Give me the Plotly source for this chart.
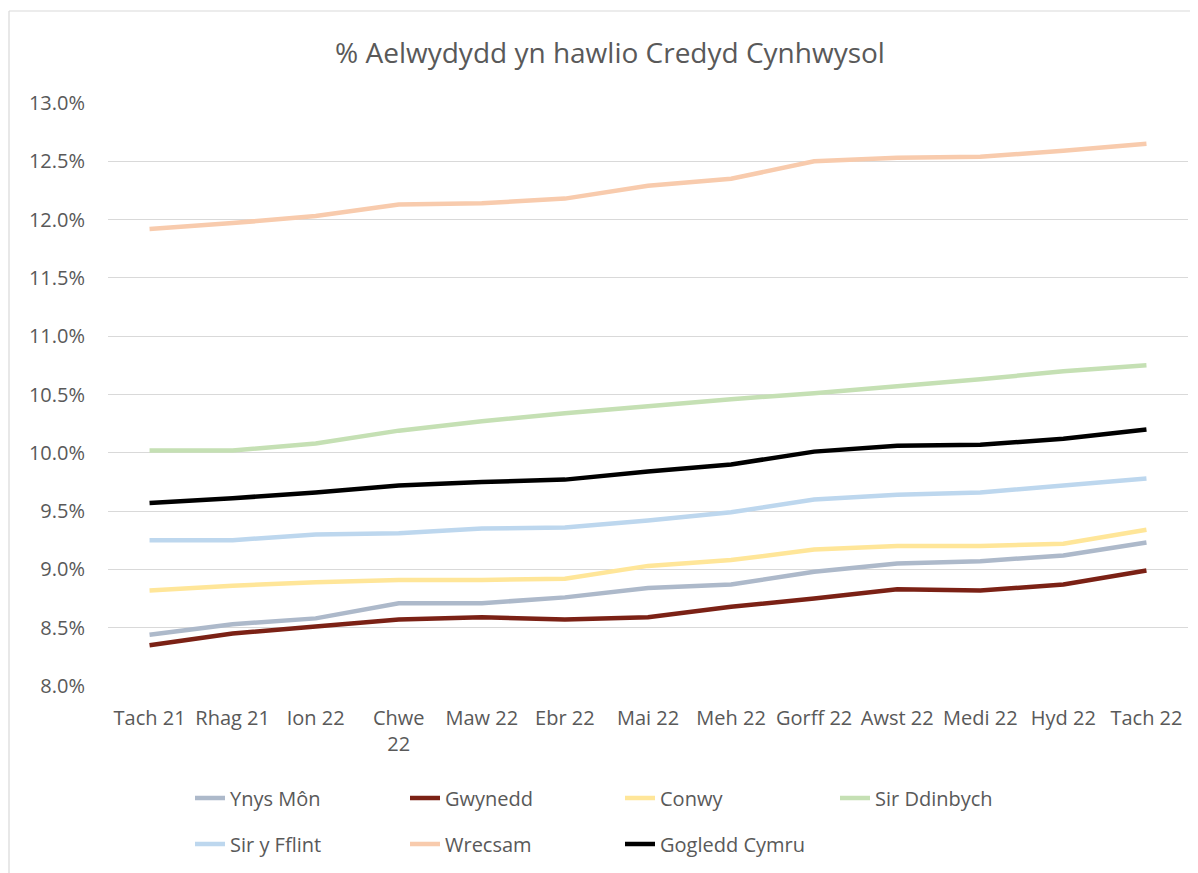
import plotly.graph_objects as go

months = ["Tach 21", "Rhag 21", "Ion 22", "Chwe 22", "Maw 22", "Ebr 22", "Mai 22",
          "Meh 22", "Gorff 22", "Awst 22", "Medi 22", "Hyd 22", "Tach 22"]
tick_labels = ["Tach 21", "Rhag 21", "Ion 22", "Chwe<br>22", "Maw 22", "Ebr 22", "Mai 22",
               "Meh 22", "Gorff 22", "Awst 22", "Medi 22", "Hyd 22", "Tach 22"]

ynys_mon = [8.44, 8.53, 8.58, 8.71, 8.71, 8.76, 8.84, 8.87, 8.98, 9.05, 9.07, 9.12, 9.23]
gwynedd = [8.35, 8.45, 8.51, 8.57, 8.59, 8.57, 8.59, 8.68, 8.75, 8.83, 8.82, 8.87, 8.99]
conwy = [8.82, 8.86, 8.89, 8.91, 8.91, 8.92, 9.03, 9.08, 9.17, 9.20, 9.20, 9.22, 9.34]
sir_ddinbych = [10.02, 10.02, 10.08, 10.19, 10.27, 10.34, 10.40, 10.46, 10.51, 10.57, 10.63, 10.70, 10.75]
sir_y_fflint = [9.25, 9.25, 9.30, 9.31, 9.35, 9.36, 9.42, 9.49, 9.60, 9.64, 9.66, 9.72, 9.78]
wrecsam = [11.92, 11.97, 12.03, 12.13, 12.14, 12.18, 12.29, 12.35, 12.50, 12.53, 12.54, 12.59, 12.65]
gogledd_cymru = [9.57, 9.61, 9.66, 9.72, 9.75, 9.77, 9.84, 9.90, 10.01, 10.06, 10.07, 10.12, 10.20]

series_names = ["Ynys Môn", "Gwynedd", "Conwy", "Sir Ddinbych", "Sir y Fflint", "Wrecsam", "Gogledd Cymru"]
series_values = [ynys_mon, gwynedd, conwy, sir_ddinbych, sir_y_fflint, wrecsam, gogledd_cymru]
series_colors = ["#ADB9CA", "#7B2115", "#FFE699", "#C5E0B4", "#BDD7EE", "#F8CBAD", "#000000"]
legend_rows = ["legend", "legend", "legend", "legend", "legend2", "legend2", "legend2"]

y_ticks = [8.0, 8.5, 9.0, 9.5, 10.0, 10.5, 11.0, 11.5, 12.0, 12.5, 13.0]

W, H = 1198, 873
OFF = 8  # page body margin
pw, ph = 1080, 583
ML, MT = 108 - OFF, 103 - OFF
MR, MB = W - ML - pw, H - MT - ph

def px_x(p):
    return (p - OFF - ML) / pw

def px_y(p):
    return (MT + ph - (p - OFF)) / ph

fig = go.Figure()
for name, vals, col, lg in zip(series_names, series_values, series_colors, legend_rows):
    fig.add_trace(go.Scatter(x=months, y=[v / 100 for v in vals], name=name, mode="lines",
                             line=dict(color=col, width=4.5), legend=lg))

font = "Open Sans, Noto Sans, sans-serif"
legend_common = dict(orientation="h", xanchor="left", yanchor="middle",
                     entrywidth=170, entrywidthmode="pixels",
                     font=dict(size=20, color="#595959"), traceorder="normal",
                     bgcolor="rgba(0,0,0,0)")
fig.update_layout(
    width=W, height=H,
    margin=dict(l=ML, r=MR, t=MT, b=MB, pad=0, autoexpand=False),
    paper_bgcolor="white", plot_bgcolor="white",
    font=dict(family=font, size=20, color="#595959"),
    title=dict(text="% Aelwydydd yn hawlio Credyd Cynhwysol", x=(610 - OFF) / W, xanchor="center",
               y=1 - (53 - OFF) / H, yanchor="middle", font=dict(size=28, color="#595959")),
    xaxis=dict(type="category", tickmode="array", tickvals=months, ticktext=tick_labels,
               showgrid=False, showline=False, ticks="", tickfont=dict(size=20),
               tickangle=0, automargin=False, ticklabelstandoff=18,
               range=[-0.5, len(months) - 0.5]),
    yaxis=dict(range=[0.08, 0.13], tickvals=[t / 100 for t in y_ticks], tickformat=".1%",
               showgrid=True, gridcolor="#D9D9D9", gridwidth=1, zeroline=False,
               showline=False, ticks="", tickfont=dict(size=20), ticklabelstandoff=22,
               automargin=False),
    legend=dict(x=px_x(190), y=px_y(798), **legend_common),
    legend2=dict(x=px_x(190), y=px_y(844), **legend_common),
    showlegend=True,
)

fig.add_shape(type="line", xref="paper", yref="paper",
              x0=px_x(9), x1=px_x(9), y0=px_y(H + 20), y1=px_y(11),
              line=dict(color="#D9D9D9", width=1.2))
fig.add_shape(type="line", xref="paper", yref="paper",
              x0=px_x(9), x1=px_x(W + 20), y0=px_y(11), y1=px_y(11),
              line=dict(color="#D9D9D9", width=1.2))

fig.write_html("out.html")
